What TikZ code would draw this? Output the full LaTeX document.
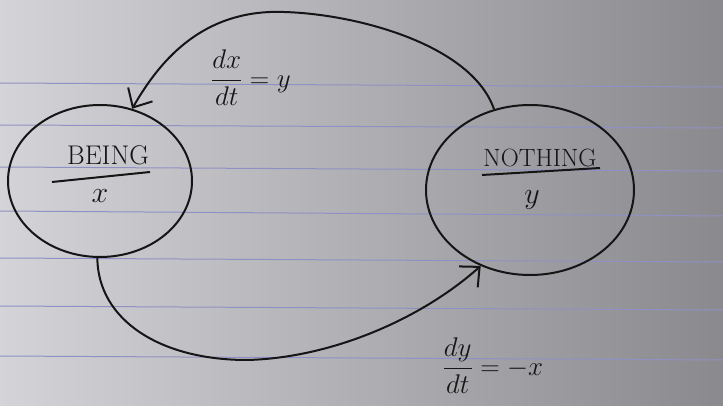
\RequirePackage{fix-cm}
\documentclass[tikz,border=0pt]{standalone}
\usepackage{fontspec}
\usetikzlibrary{shapes.geometric,arrows.meta}
\definecolor{paperL}{HTML}{D4D4D8}
\definecolor{paperM}{HTML}{C6C6CA}
\definecolor{paperR}{HTML}{8A8A8E}
\definecolor{ruleblue}{HTML}{9090C4}
\definecolor{ink}{HTML}{151515}
\begin{document}
\begin{tikzpicture}[x=1pt,y=-1pt,
  state/.style={ellipse, draw=ink, line width=2pt, inner sep=0pt},
  flow/.style={draw=ink, line width=2pt, -{Straight Barb[length=15pt,width=28pt]}},
  lbl/.style={text=ink, font=\fontsize{24}{28}\selectfont, inner sep=0pt},
  eqn/.style={lbl, font=\fontsize{27}{30}\selectfont},
  divider/.style={draw=ink, line width=2pt},
  paperline/.style={draw=ruleblue, line width=1pt}]
\shade[left color=paperL, middle color=paperM, right color=paperR] (0,0) rectangle (723,406);
\useasboundingbox (0,0) rectangle (723,406);
\foreach \a/\b in {83/87,125/128,167/171,211/216,258/262,306/310,356/360}
  \draw[paperline] (0,\a) -- (723,\b);
% states
\node[state, minimum width=184pt, minimum height=152pt] (being) at (100,181) {};
\node[state, minimum width=208pt, minimum height=170pt] (nothing) at (530,190) {};
\node[lbl, font=\fontsize{27}{30}\selectfont] (beingname) at (108,155) {BEING};
\node[lbl, font=\fontsize{30}{34}\selectfont] (beingvar) at (100,196) {$x$};
\draw[divider] (52,182) -- (150,172);
\node[lbl, font=\fontsize{25}{30}\selectfont] (nothingname) at (540,158) {NOTHING};
\node[lbl, font=\fontsize{30}{34}\selectfont] (nothingvar) at (532,200) {$y$};
\draw[divider] (482,175) -- (600,168);
% connectors
\draw[flow] (nothing.114) .. controls (470,40) and (340,10) .. (270,12)
  .. controls (200,15) and (160,60) .. (being.66);
\draw[flow] (being.268) .. controls (98,320) and (160,360) .. (247,360)
  .. controls (330,358) and (420,320) .. (nothing.237);
% labels
\node[eqn] (toplbl) at (251,78) {$\displaystyle\frac{dx}{dt}=y$};
\node[eqn] (botlbl) at (493,366) {$\displaystyle\frac{dy}{dt}=-x$};
\end{tikzpicture}
\end{document}
